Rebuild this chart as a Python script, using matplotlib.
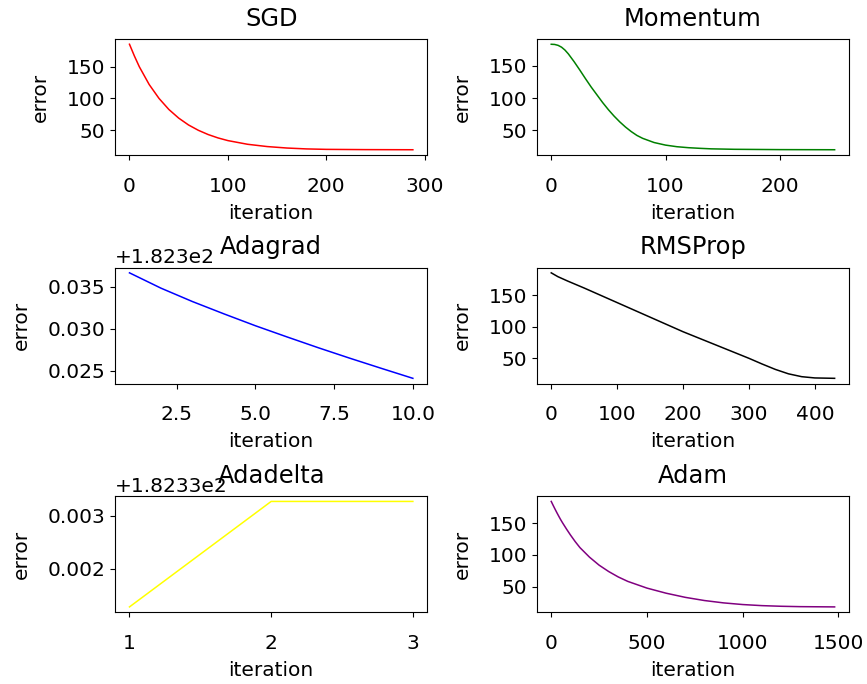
import matplotlib
matplotlib.use('Agg')
import matplotlib.pyplot as plt

plt.rcParams['font.size'] = 14.5
plt.rcParams['xtick.major.pad'] = 12
plt.rcParams['axes.labelpad'] = 6

# error per iteration for each optimizer
sgd_iter = [0, 5, 10, 20, 30, 40, 50, 60, 70, 80, 90, 100, 120, 140, 160, 180,
            200, 240, 288]
sgd_err = [185.0, 166.5, 149.6, 121.7, 99.8, 82.4, 68.8, 58.0, 49.6, 42.9, 37.6,
           33.4, 27.6, 24.0, 21.7, 20.3, 19.6, 19.2, 19.0]

mom_iter = [0, 3, 6, 9, 12, 15, 20, 25, 30, 35, 40, 45, 50, 55, 60, 65, 70, 75,
            80, 90, 100, 110, 120, 130, 140, 160, 200, 248]
mom_err = [183.5, 183.2, 181.8, 179.0, 174.5, 168.5, 156.5, 143.5, 130.0, 117.0,
           105.0, 93.0, 82.0, 72.0, 63.0, 55.0, 48.0, 42.0, 37.5, 31.0, 27.0,
           24.5, 23.0, 22.0, 21.2, 20.5, 20.0, 19.8]

adagrad_iter = [1, 2, 3, 4, 5, 6, 7, 8, 9, 10]
adagrad_err = [182.33668, 182.33485, 182.33325, 182.33178, 182.33036,
               182.32903, 182.32773, 182.32648, 182.32527, 182.32408]

rms_iter = [0, 10, 25, 50, 100, 150, 200, 250, 300, 320, 340, 360, 380, 400,
            430]
rms_err = [185.0, 179.0, 172.0, 161.0, 138.0, 115.0, 92.0, 71.0, 50.0, 41.0,
           32.5, 25.5, 21.0, 19.0, 18.4]

adadelta_iter = [1, 2, 3]
adadelta_err = [182.33128, 182.33327, 182.33327]

adam_iter = [0, 10, 20, 30, 40, 50, 60, 80, 100, 125, 150, 200, 250, 300, 350,
             400, 500, 600, 700, 800, 900, 1000, 1100, 1200, 1300, 1480]
adam_err = [184.0, 177.8, 171.8, 166.0, 160.4, 155.0, 150.0, 140.5, 131.5,
            121.0, 111.5, 96.5, 84.0, 74.0, 65.5, 58.5, 48.0, 40.0, 33.5, 28.5,
            24.8, 22.2, 20.5, 19.5, 18.9, 18.5]

names = ['SGD', 'Momentum', 'Adagrad', 'RMSProp', 'Adadelta', 'Adam']
iters = [sgd_iter, mom_iter, adagrad_iter, rms_iter, adadelta_iter, adam_iter]
errors = [sgd_err, mom_err, adagrad_err, rms_err, adadelta_err, adam_err]
colors = ['red', 'green', 'blue', 'black', 'yellow', 'purple']

fig, axs = plt.subplots(3, 2, figsize=(8.67, 6.84), dpi=100)
for ax, name, x, y, c in zip(axs.flat, names, iters, errors, colors):
    ax.plot(x, y, color=c, lw=1.1)
    # fixed y keeps the title from being pushed above the offset text
    ax.set_title(name, y=1.0, pad=9.5)
    ax.set_xlabel('iteration')
    ax.set_ylabel('error', labelpad=12)

axs[1][0].set_xticks([2.5, 5.0, 7.5, 10.0])
# adadelta only ran a few steps
axs[2][0].set_xticks(adadelta_iter)

fig.subplots_adjust(left=0.133, right=0.979, top=0.943, bottom=0.105,
                    wspace=0.353, hspace=0.97)
fig.savefig('out.png')
